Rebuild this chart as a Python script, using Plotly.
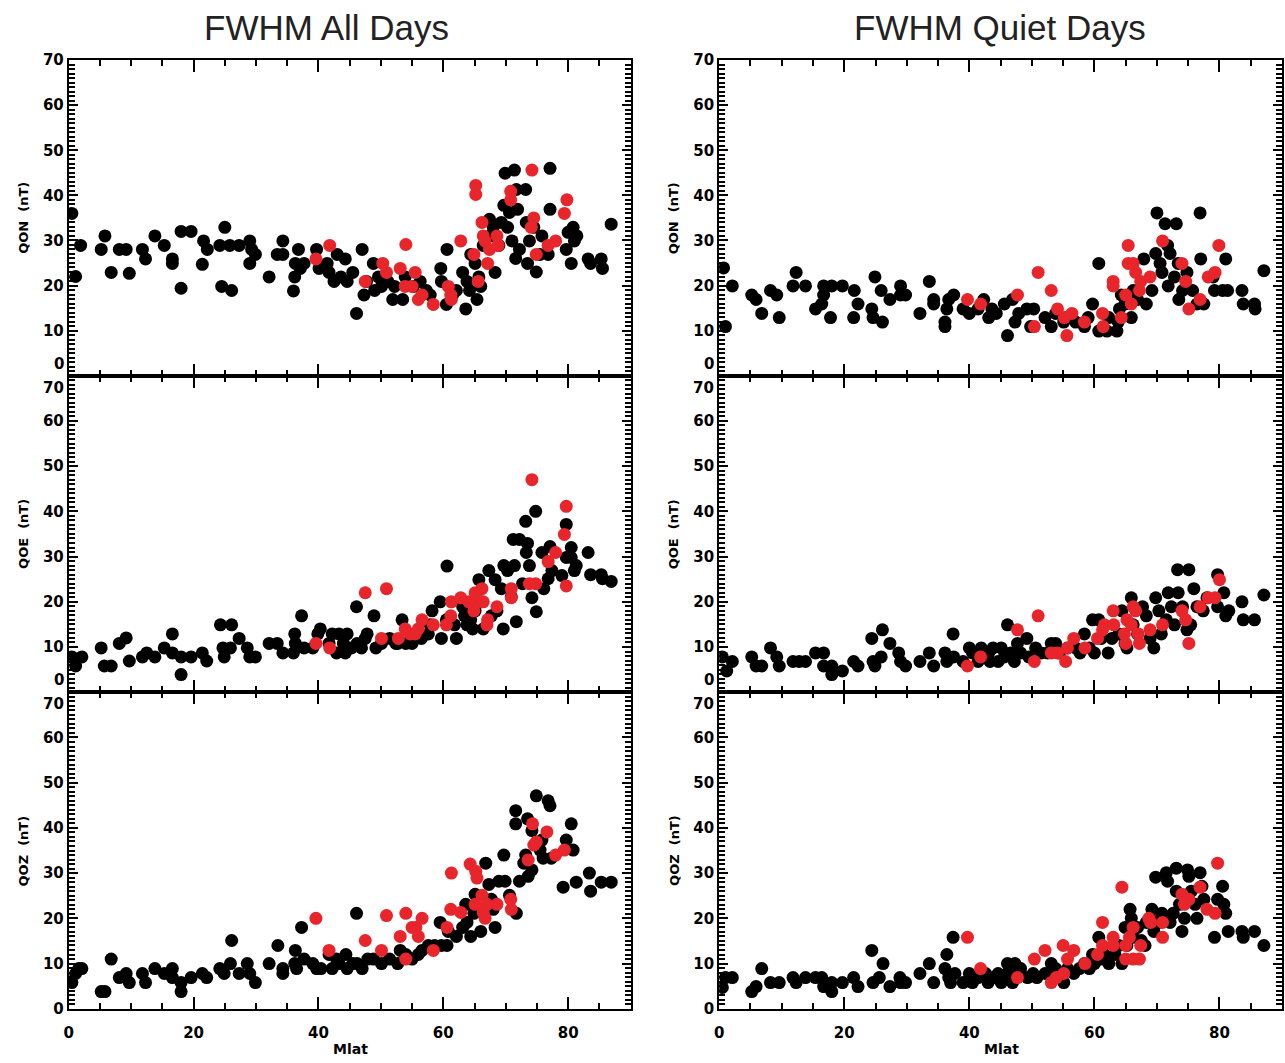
import plotly.graph_objects as go

# ---------------- data (Mlat, value in nT) ----------------
qon_all_black = [(0.5,36.0),(1.1,22.0),(1.9,28.9),(5.2,28),(5.8,31),(6.8,22.9),(8.1,28),(9.2,28),(9.7,22.7),(11.8,28),
 (12.3,25.9),(13.8,31),(15.3,28.9),(16.6,25.9),(16.6,24.9),(18.0,19.4),(18.0,32),(19.6,32),(21.6,29.9),(22.2,28),
 (21.4,24.7),(24.5,19.8),(26.1,18.9),(25.0,32.9),(24.2,28.9),(25.8,28.9),(27.3,28.9),(29.0,29.9),(29.3,28),(29.9,26.9),
 (29.0,24.9),(32.1,21.9),(33.4,26.9),(34.3,29.9),(34.3,26.9),(36.0,18.8),(36.2,21.9),(36.3,24.9),(36.8,28),(37.1,23.8),
 (37.7,24.9),(39.7,28),(40.1,23.8),(41.4,24.9),(41.7,22.9),(43.0,26.9),(42.5,20.9),(43.6,21.9),(44.3,25.9),(44.6,20.9),
 (45.5,22.9),(46.1,13.8),(47.0,28),(47.3,17.9),(47.7,20.9),(48.8,24.9),(49.0,18.9),(49.6,21.9),(50.1,19.8),(51.1,20.9),
 (51.9,16.9),(52.2,19.8),(53.5,16.9),(53.9,21.9),(55.2,19.8),(56.3,20.9),(57.3,18.9),(57.9,17.9),(59.6,23.8),(59.7,20.9),
 (60.6,28),(60.5,15.8),(61.5,17.9),(62.1,18.9),(63.1,22.9),(63.6,14.8),(63.8,20.9),(64.2,18.9),(64.4,26.9),(65.1,24.9),
 (65.4,16.9),(65.7,21.9),(66.0,19.8),(66.4,28.9),(67.4,34.7),(67.5,31),(68.0,32.9),(68.3,22.9),(68.9,28.9),(69.3,34),
 (69.7,37.8),(69.9,44.9),(70.3,32.9),(70.6,36.2),(71.0,29.9),(71.4,45.6),(71.6,26),(71.7,41.3),(71.9,36.9),(72.2,28),
 (73.2,41.3),(73.3,34),(73.5,24.9),(73.8,29.9),(74.5,32.9),(74.9,23),(75.5,26.9),(75.8,31),(76.8,26.9),(77.1,36.9),
 (77.1,46),(79.7,28),(80.0,31.8),(80.5,24.9),(80.8,32.9),(81.0,29.9),(81.4,31),(83.2,25.9),(83.6,24.9),(85.3,25.9),
 (85.5,23.8),(86.9,33.6)]
qon_all_red = [(39.6,25.9),(41.8,28.9),(47.5,20.9),(50.3,24.9),(50.9,22.9),(53.1,23.8),(54.0,29.1),(53.9,19.8),(55.0,19.8),
 (55.5,22.9),(56.0,16.9),(56.6,17.9),(58.4,15.8),(60.8,19.8),(61.2,17.9),(61.3,16.9),(62.8,29.9),(64.9,26.9),(65.2,42.2),
 (65.2,40.2),(65.6,20.9),(66.2,34),(66.4,31),(66.7,29.9),(67.1,24.9),(67.4,28),(68.6,31),(68.8,28.9),(70.8,40.9),(70.8,39),
 (74.2,45.6),(74.1,32.9),(74.5,35),(74.9,26.9),(76.8,28.9),(78.0,29.9),(79.4,36),(79.8,39)]

qon_quiet_black = [(0.7,23.9),(1.0,10.9),(2.1,19.9),(5.2,17.9),(5.9,16.9),(6.8,13.8),(8.2,18.9),(9.2,17.9),(9.6,12.9),
 (11.8,19.9),(12.3,22.9),(13.8,19.9),(15.4,14.8),(16.4,15.9),(16.7,17.9),(16.7,19.9),(17.8,12.9),(18.0,19.9),(19.7,19.9),
 (21.5,12.9),(21.6,18.9),(22.2,15.9),(24.4,14.8),(24.6,12.9),(24.9,21.9),(25.9,18.9),(26.1,11.9),(27.3,16.9),(29.0,17.9),
 (29.0,19.9),(29.8,17.9),(32.1,13.8),(33.6,20.9),(34.3,16.9),(34.3,15.9),(36.1,11.9),(36.1,10.9),(36.4,14.8),(36.7,16.9),
 (37.5,17.9),(39.0,14.8),(40.0,13.8),(41.4,14.8),(42.3,16.9),(43.1,12.9),(43.6,14.8),(44.3,13.8),(45.6,15.9),(46.1,8.9),
 (46.9,16.9),(47.3,11.9),(47.9,13.8),(49.2,14.8),(49.8,10.9),(50.3,14.8),(52.1,12.9),(53.1,10.9),(53.8,13.8),(55.1,11.9),
 (55.7,12.9),(57.0,11.9),(58.4,10.9),(59.0,12.9),(59.7,15.9),(60.7,24.9),(60.7,9.9),(62.0,9.9),(62.3,12.9),(63.6,9.9),
 (63.8,11.9),(64.0,14.8),(64.3,17.9),(64.9,15.9),(65.9,12.9),(66.2,18.9),(66.9,16.9),(67.9,25.9),(68.3,15.9),(69.2,18.9),
 (69.8,27.1),(70.0,36.1),(70.5,24.9),(70.8,22.9),(71.3,33.7),(71.7,28.9),(71.8,19.9),(72.1,27.1),(72.8,21.9),(73.1,33.7),
 (73.4,24.9),(73.5,16.9),(74.1,18.9),(74.8,22.9),(75.7,18.9),(76.4,15.9),(76.9,36.1),(77.0,25.9),(77.5,15.9),(79.0,21.9),
 (79.2,18.9),(80.5,18.9),(81.0,25.9),(81.3,18.9),(83.6,18.9),(83.8,15.9),(85.6,15.9),(85.7,14.8),(87.1,23.3)]
qon_quiet_red = [(39.7,16.9),(41.8,15.9),(47.7,17.9),(50.4,10.9),(51.0,22.9),(53.1,18.9),(54.1,14.8),(55.2,12.9),(55.6,8.9),
 (56.4,13.8),(58.4,11.9),(61.3,13.8),(61.4,10.9),(63.0,20.9),(63.0,19.9),(64.3,12.9),(65.0,17.9),(65.4,28.9),(65.4,24.9),
 (65.9,15.9),(66.2,24.9),(66.6,22.9),(67.2,18.9),(67.4,20.9),(68.9,21.9),(70.9,29.9),(74.0,24.9),(74.6,20.9),(75.1,14.8),
 (76.9,16.9),(78.2,21.9),(79.3,22.9),(79.9,28.9)]

qoe_all_black = [(0.5,7.8),(1.1,5.8),(2.1,7.8),(5.2,9.8),(5.7,5.8),(6.8,5.8),(8.1,10.8),(9.2,12),(9.7,6.9),(11.8,7.8),
 (12.5,8.7),(13.8,7.8),(15.3,9.8),(16.6,12.9),(16.6,8.7),(18.0,7.8),(18.0,3.9),(19.6,7.8),(21.4,8.7),(22.1,6.9),
 (24.3,14.9),(26.1,14.9),(24.7,9.8),(24.9,7.8),(25.9,9.8),(27.3,11.9),(28.6,9.8),(29.0,7.8),(29.9,7.8),(32.1,10.8),
 (33.4,10.8),(34.3,8.7),(36.0,8.7),(36.2,12.9),(36.3,10.8),(37.3,16.9),(37.7,9.8),(39.1,9.8),(39.9,12.9),(40.3,14),
 (41.7,10.8),(42.2,12.9),(42.9,8.7),(43.3,12.9),(44.0,10.8),(44.3,8.7),(44.6,12.9),(45.3,9.8),(46.1,18.9),(46.2,10.8),
 (46.9,9.8),(47.5,11.9),(47.8,12.9),(48.9,16.9),(49.2,9.8),(50.1,10.8),(51.4,11.9),(52.4,10.8),(53.4,16),(52.7,10.8),
 (54.0,10.8),(55.0,10.8),(56.5,11.9),(57.6,12.9),(58.2,18),(57.9,14.9),(59.5,20),(59.7,11.9),(60.6,27.9),(60.5,16),
 (61.8,14.9),(62.1,11.9),(63.1,18.9),(63.4,16.9),(63.8,14.9),(64.4,16),(64.7,14),(65.1,18),(65.7,24.9),(66.0,20),
 (66.4,14),(67.3,26.9),(67.7,16.9),(68.3,24.9),(68.6,18),(69.3,22.9),(69.6,14),(69.7,28),(70.3,26.9),(70.9,21.1),
 (71.2,33.8),(71.4,28),(71.7,15.6),(72.2,33.8),(72.7,24),(73.2,37.8),(73.3,30.9),(73.5,32.9),(73.8,28),(74.2,20.9),
 (74.8,40),(74.9,17.8),(75.8,30.9),(76.1,22.9),(76.8,25.1),(77.1,32.2),(77.4,26.9),(79.0,25.8),(79.7,37.1),(79.7,29.8),
 (80.5,32),(80.5,29.8),(81.0,26.9),(81.3,28),(83.2,30.9),(83.6,26),(85.3,26),(85.5,25.1),(86.9,24.5)]
qoe_all_red = [(39.6,10.8),(41.8,9.8),(47.5,22),(50.9,22.9),(50.1,11.9),(52.8,11.9),(53.9,14),(54.7,12.9),(55.5,12.9),
 (56.0,14),(56.6,16),(58.4,14.9),(60.5,14.9),(61.2,16.9),(61.3,20),(62.8,20.9),(64.1,20),(64.9,18),(65.1,22),(65.4,20),
 (66.2,22.9),(66.4,20),(67.0,14.9),(67.1,16),(68.6,18.9),(70.9,22.9),(70.9,20.9),(74.2,47),(73.8,24),(74.8,24),
 (76.8,28.9),(78.0,30.9),(79.4,34.9),(79.7,41.1),(79.7,23.5)]

qoe_quiet_black = [(0.5,7.8),(1.2,4.7),(2.1,6.8),(5.2,7.8),(5.9,5.8),(6.8,5.8),(8.2,9.8),(9.2,7.8),(9.6,5.8),(11.8,6.8),
 (12.8,6.8),(13.8,6.8),(15.4,8.7),(16.7,8.7),(16.7,5.8),(18.0,3.9),(18.0,5.8),(19.7,4.7),(21.5,6.8),(22.2,5.8),
 (24.4,11.9),(24.6,6.8),(24.9,5.8),(25.9,7.8),(26.1,13.8),(27.3,10.8),(28.7,8.7),(29.0,6.8),(29.8,5.8),(32.1,6.8),
 (33.6,8.7),(34.3,5.8),(36.1,8.7),(36.4,6.8),(37.4,12.9),(37.5,7.8),(39.0,6.8),(40.0,9.8),(40.5,8.7),(41.4,6.8),
 (41.9,9.8),(43.1,8.7),(43.3,6.8),(43.8,9.8),(44.6,6.8),(45.1,9.8),(45.6,7.8),(46.1,14.9),(46.6,8.7),(47.2,6.8),
 (47.7,10.8),(48.2,8.7),(49.2,11.9),(49.5,7.8),(50.6,9.8),(51.5,8.7),(52.5,8.7),(53.1,10.8),(53.8,10.8),(54.4,8.7),
 (55.7,9.8),(57.0,9.8),(57.7,8.7),(58.4,12.9),(59.2,9.8),(59.7,16),(60.0,8.7),(60.7,16),(61.1,11.9),(62.2,8.7),
 (62.8,11.9),(63.9,12.9),(64.4,18),(64.9,10.8),(65.2,9.8),(65.9,20.9),(66.2,14.9),(66.9,12.9),(67.7,18.9),(68.3,16.9),
 (68.9,11.9),(69.5,9.8),(69.8,20.9),(70.3,18),(70.7,12.9),(71.5,16),(71.8,22),(72.3,18.9),(72.8,14.9),(73.3,27.1),
 (73.4,22),(74.1,18.9),(74.8,13.8),(75.1,27.1),(75.4,14.9),(75.9,22.9),(76.4,18.9),(77.4,18),(78.0,20.9),(79.7,26),
 (79.7,18.9),(80.7,22),(81.0,16.9),(81.5,18),(83.6,20),(83.8,16),(85.6,16),(87.1,21.5)]
qoe_quiet_red = [(39.7,5.8),(41.8,7.8),(47.7,13.8),(50.4,6.8),(51.0,16.9),(53.1,8.7),(54.1,8.7),(55.4,6.8),(55.7,9.8),
 (56.7,11.9),(58.5,9.8),(60.5,11.9),(61.3,13.8),(61.6,14.9),(63.0,18),(63.1,14.9),(64.8,12.9),(65.0,10.8),(65.2,16),
 (65.9,14.9),(66.2,18.9),(66.6,18),(67.0,12.9),(67.2,10.8),(68.9,13.8),(70.9,14.9),(74.0,18),(74.6,16),(75.1,10.8),
 (76.9,18.9),(78.2,20.9),(79.3,20.9),(80.0,24.9)]

qoz_all_black = [(0.5,5.8),(1.1,7.8),(1.6,8.9),(2.1,8.9),(5.2,3.8),(5.8,3.8),(6.8,11),(8.1,6.9),(9.2,7.8),(9.7,5.8),
 (11.8,7.8),(12.3,5.8),(13.8,8.9),(15.3,7.8),(16.6,8.9),(16.6,6.9),(18.0,5.8),(18.0,3.8),(19.6,6.9),(21.4,7.8),
 (22.1,6.9),(24.2,8.9),(24.9,7.8),(25.9,10),(26.1,15.1),(27.3,7.8),(28.6,10),(29.0,7.8),(29.9,5.8),(32.1,10),
 (33.5,14),(34.3,8.9),(34.3,7.8),(36.3,12.9),(36.2,10),(36.5,8.9),(37.3,18),(37.7,11),(39.1,10),(39.7,8.9),
 (40.4,8.9),(41.7,12),(42.2,8.9),(42.9,11),(43.3,10),(44.4,12),(44.6,8.9),(45.5,10),(46.1,21.1),(46.2,10),
 (47.0,8.9),(47.9,11),(48.8,11),(50.1,10),(51.4,11),(52.7,10),(53.1,12.9),(54.0,12),(55.0,11),(56.0,12),
 (56.6,12.9),(57.6,14),(58.6,14),(59.5,19.1),(59.7,14),(60.6,14),(60.8,17.1),(62.1,16),(63.1,18),(63.6,23.1),
 (63.8,19.1),(64.4,16),(64.9,21.1),(65.1,25.3),(66.0,17.1),(66.8,32.2),(67.3,27.5),(67.7,24.2),(68.0,22),(68.3,18),
 (68.9,28.2),(69.7,34),(69.9,28.2),(70.6,25.1),(71.6,43.8),(71.6,40.9),(71.7,21.1),(72.2,28.2),(72.9,32.2),(73.2,34),
 (73.5,42),(73.6,29.3),(74.2,30.7),(74.2,39.4),(74.9,47.1),(75.5,35.1),(75.8,37.3),(76.0,33.3),(76.8,46),(77.1,44.9),
 (77.3,33.3),(79.2,26.9),(79.7,37.3),(80.5,40.9),(80.8,35.1),(81.3,28),(83.4,30),(83.6,26),(85.3,28),(86.9,28)]
qoz_all_red = [(39.6,20),(41.7,12.9),(47.5,15.1),(50.1,12.9),(50.9,20.6),(53.1,16),(54.0,21.1),(54.0,11),(55.0,18),
 (55.6,18),(56.0,16),(56.6,20),(58.4,12.9),(60.6,18),(61.2,22),(61.3,30),(62.8,21.3),(64.3,32),(65.1,23.1),(65.2,30.4),
 (65.4,28.9),(66.2,25.1),(66.4,21.3),(66.7,20),(67.0,23.1),(68.6,23.1),(70.8,24.2),(70.9,22),(73.6,32.9),(74.3,40.9),
 (74.5,36.2),(74.9,36.9),(76.6,39.1),(78.0,34),(79.4,35.1)]

qoz_quiet_black = [(0.5,4.7),(1.0,6.9),(2.1,6.9),(5.2,3.8),(5.9,4.9),(6.8,8.9),(8.2,5.8),(9.6,5.8),(11.8,6.9),(12.3,5.8),
 (13.8,6.9),(15.4,6.9),(16.4,6.9),(16.7,4.9),(18.0,5.8),(18.0,3.8),(19.7,5.8),(21.5,6.9),(22.2,4.9),(24.4,12.9),
 (24.6,5.8),(25.6,6.9),(26.2,10),(27.3,4.9),(28.9,6.9),(29.0,5.8),(29.8,5.8),(32.1,7.8),(33.6,10),(34.3,5.8),
 (36.1,8.9),(36.4,12),(36.7,6.9),(37.0,5.8),(37.4,15.8),(37.7,7.8),(39.0,5.8),(40.0,7.8),(40.5,5.8),(41.4,6.9),
 (42.6,7.8),(43.0,5.8),(43.9,6.9),(44.6,7.8),(45.1,5.8),(46.1,10),(46.1,7.8),(46.9,5.8),(47.3,10),(47.7,7.8),
 (48.2,8.9),(49.3,6.9),(50.2,7.8),(50.8,6.9),(52.1,7.8),(53.1,10),(53.8,8.9),(55.1,5.8),(55.7,8.9),(56.7,7.8),
 (57.6,8.9),(58.4,10),(59.2,8.9),(59.7,12),(60.0,10),(60.7,15.8),(61.0,11),(61.6,12),(62.3,10),(63.3,12),
 (63.9,14),(64.4,10),(64.9,18),(65.2,14),(65.7,22),(65.9,20),(66.2,15.8),(66.9,18),(67.5,15.1),(68.1,14),
 (68.3,19.1),(68.9,20),(69.2,22),(69.5,17.1),(69.8,29.1),(70.3,19.1),(70.8,21.1),(71.5,30.1),(71.7,28.2),(72.1,19.1),
 (72.6,21.1),(73.1,31.1),(73.1,26),(73.6,23.1),(74.0,17.1),(74.4,20),(74.9,30.7),(75.1,29.3),(75.5,26),(76.1,23.1),
 (76.4,20),(76.9,30.1),(77.2,27.1),(77.5,24.2),(79.2,15.8),(79.7,24.2),(80.5,27.1),(80.7,23.1),(81.0,21.1),(81.4,17.1),
 (83.6,17.1),(83.8,15.8),(85.6,17.1),(87.1,14)]
qoz_quiet_red = [(39.7,15.8),(41.8,8.9),(47.7,6.9),(50.4,11),(52.1,12.9),(53.1,5.8),(53.9,6.9),(55.0,14),(55.1,7.8),
 (55.7,11),(56.7,12.9),(58.5,10),(60.5,12),(61.3,19.1),(61.3,14),(63.0,15.8),(63.0,14),(64.4,26.9),(65.0,14),(65.0,11),
 (65.6,15.8),(66.2,18),(66.2,11),(67.2,11),(67.4,14),(68.7,20),(69.0,19.1),(70.9,19.1),(70.9,15.8),(74.0,25.3),
 (74.4,23.1),(75.1,24.2),(76.9,26.9),(78.0,22),(79.3,21.1),(79.7,32.2)]

panel_titles = ["FWHM All Days", "FWHM Quiet Days"]
row_labels = ["QON  (nT)", "QOE  (nT)", "QOZ  (nT)"]
x_label = "Mlat"
x_ticks = [0, 20, 40, 60, 80]
y_ticks = [0, 10, 20, 30, 40, 50, 60, 70]

panels = [
    (qon_all_black, qon_all_red), (qon_quiet_black, qon_quiet_red),
    (qoe_all_black, qoe_all_red), (qoe_quiet_black, qoe_quiet_red),
    (qoz_all_black, qoz_all_red), (qoz_quiet_black, qoz_quiet_red),
]

# ---------------- layout geometry ----------------
W, H = 1285, 1063
col_px = [(64, 628), (717, 1282)]
row_px = [(52, 373), (373, 695), (695, 1017)]
X_RANGE = [0, 90]
Y_RANGE = [y_ticks[0], y_ticks[-1]]

BLACK = "#000000"
RED = "#e8252a"
TICKFONT = dict(family="DejaVu Sans", size=15, color="black", weight="bold")

fig = go.Figure()
layout = dict(
    width=W, height=H, margin=dict(l=0, r=0, t=0, b=0),
    paper_bgcolor="white", plot_bgcolor="white", showlegend=False,
    annotations=[],
)

for i, (blk, red) in enumerate(panels):
    r, c = divmod(i, 2)
    n = i + 1
    xa = "x" if n == 1 else f"x{n}"
    ya = "y" if n == 1 else f"y{n}"
    for pts, col in ((blk, BLACK), (red, RED)):
        fig.add_trace(go.Scatter(
            x=[p[0] for p in pts], y=[p[1] for p in pts], mode="markers",
            marker=dict(size=13, color=col, line=dict(width=0)),
            xaxis=xa, yaxis=ya, hoverinfo="skip"))
    x0, x1 = col_px[c]
    y0, y1 = row_px[r]
    kx = "xaxis" if n == 1 else f"xaxis{n}"
    ky = "yaxis" if n == 1 else f"yaxis{n}"
    layout[kx] = dict(
        domain=[x0 / W, x1 / W], anchor=ya, range=X_RANGE,
        tickmode="linear", tick0=x_ticks[0], dtick=x_ticks[1] - x_ticks[0],
        ticks="inside", ticklen=12, tickwidth=1.5,
        tickcolor="black", showline=True, linecolor="black", linewidth=2, mirror="ticks",
        showgrid=False, zeroline=False, showticklabels=(r == 2), tickfont=TICKFONT,
        ticklabelstandoff=9,
        minor=dict(tickmode="linear", tick0=0, dtick=5, ticks="inside", ticklen=6,
                   tickwidth=1.5, tickcolor="black", showgrid=False),
    )
    shown = [v for v in y_ticks
             if not ((v == y_ticks[0] and r < 2) or (v == y_ticks[-1] and r > 0))]
    layout[ky] = dict(
        domain=[1 - y1 / H, 1 - y0 / H], anchor=xa, range=Y_RANGE,
        tickmode="array", tickvals=shown, ticktext=[str(v) for v in shown],
        ticks="inside", ticklen=9, tickwidth=1.5,
        tickcolor="black", showline=True, linecolor="black", linewidth=2, mirror="ticks",
        showgrid=False, zeroline=False, tickfont=TICKFONT,
        minor=dict(tickmode="linear", tick0=0, dtick=1, ticks="inside", ticklen=6,
                   tickwidth=1.5, tickcolor="black", showgrid=False),
    )

    if r < 2:
        layout["annotations"].append(dict(
            text=str(y_ticks[0]), x=0, y=y_ticks[0], xref=f"{xa} domain", yref=ya,
            showarrow=False, xanchor="right", yanchor="bottom", xshift=-3, yshift=1,
            font=TICKFONT))
    if r > 0:
        layout["annotations"].append(dict(
            text=str(y_ticks[-1]), x=0, y=y_ticks[-1], xref=f"{xa} domain", yref=ya,
            showarrow=False, xanchor="right", yanchor="top", xshift=-3, yshift=-1,
            font=TICKFONT))
    # y title
    layout["annotations"].append(dict(
        text=row_labels[r], x=(x0 - 45) / W, y=1 - (y0 + y1) / 2 / H,
        xref="paper", yref="paper", showarrow=False, textangle=-90,
        xanchor="center", yanchor="middle",
        font=dict(family="DejaVu Sans", size=13, color="black", weight="bold")))

# column titles and x labels
title_cx = [323, 999]
mlat_cx = [347, 1000]
for c in range(2):
    layout["annotations"].append(dict(
        text=panel_titles[c], x=title_cx[c] / W, y=1 - 19 / H, xref="paper", yref="paper",
        showarrow=False, xanchor="center", yanchor="middle",
        font=dict(family="Liberation Sans", size=35, color="#222222")))
    layout["annotations"].append(dict(
        text=x_label, x=mlat_cx[c] / W, y=0, xref="paper", yref="paper",
        showarrow=False, xanchor="center", yanchor="bottom", yshift=-5,
        font=dict(family="DejaVu Sans", size=14, color="black", weight="bold")))

fig.update_layout(**layout)
fig.write_html("out.html")
